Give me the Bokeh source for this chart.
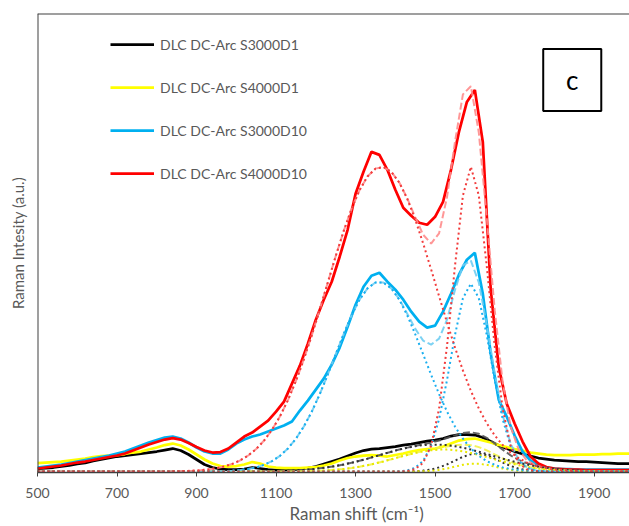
from bokeh.plotting import figure
from bokeh.models import Legend, LegendItem, Label, Span, FixedTicker, Title
from bokeh.embed import file_html
from bokeh.resources import INLINE

# ---------------- data (arbitrary intensity units) ----------------
series_names = ["DLC DC-Arc S3000D1", "DLC DC-Arc S4000D1",
                "DLC DC-Arc S3000D10", "DLC DC-Arc S4000D10"]
x_ticks = [500, 700, 900, 1100, 1300, 1500, 1700, 1900]

# measured spectra (solid lines)
wavenumber = [500, 520, 540, 560, 580, 600, 620, 640, 660, 680,
              700, 720, 740, 760, 780, 800, 820, 840, 860, 880,
              900, 920, 940, 960, 980, 1000, 1020, 1040, 1060, 1080,
              1100, 1120, 1140, 1160, 1180, 1200, 1220, 1240, 1260, 1280,
              1300, 1320, 1340, 1360, 1380, 1400, 1420, 1440, 1460, 1480,
              1500, 1520, 1540, 1560, 1580, 1600, 1620, 1640, 1660, 1680,
              1700, 1720, 1740, 1760, 1780, 1800, 1820, 1840, 1860, 1880,
              1900, 1920, 1940, 1960, 1980, 2000]

s3000d1 = [3, 3.5, 4, 5, 6, 7.5, 8.5, 10.5, 12, 13.5,
           15, 16, 17, 18, 19, 20, 21.5, 23, 21, 17,
           12, 7, 4, 2.5, 2, 2, 2.5, 4, 3, 2,
           1.5, 1.5, 2, 2.5, 3.5, 5, 7.5, 10, 12.5, 15.5,
           18.5, 21, 22.5, 23, 24, 25, 26.5, 27.5, 29, 30.5,
           31.5, 33, 35.5, 37, 37, 36.5, 34, 30, 26, 23,
           20, 17.5, 15.5, 13.5, 12.5, 11.5, 11, 10.5, 10, 10,
           9.5, 9, 8.5, 8, 8, 8]

s4000d1 = [8.5, 9, 9.5, 10, 11, 12, 13, 14.5, 15.5, 16,
           16.5, 17.5, 19, 20, 22, 24, 26.5, 28, 26, 22,
           17, 12, 8, 5.5, 5, 5.5, 7, 9.5, 8, 5,
           4, 3.5, 3.5, 3.5, 4, 4.5, 6, 8, 11, 13.5,
           15, 16, 16.5, 16, 15, 16.5, 18, 20, 21.5, 22.5,
           23, 25, 28, 31, 32.5, 33, 31, 29, 26.5, 24.5,
           22.5, 21, 19, 18, 17, 16.5, 16.5, 16.5, 17, 17,
           17, 17.5, 17.5, 18, 18, 18]

s3000d10 = [4, 5, 6, 7, 8.5, 10, 11.5, 13, 14.5, 16,
            18, 20, 23, 26, 29, 31.5, 34, 35, 33, 29,
            24, 20, 18, 18, 22, 28, 32, 35, 37, 40,
            43, 46, 50, 61, 71, 82, 93, 107, 124, 145,
            167, 185, 196, 199, 190, 182, 172, 160, 150, 144,
            146, 160, 178, 197, 212, 219, 178, 118, 72, 55,
            36, 20, 11, 6, 4, 3, 2.5, 2.5, 2, 2,
            2, 2, 2, 2, 2, 2]

s4000d10 = [3, 4, 5, 6, 7.5, 9, 10, 11.5, 13, 14.5,
            16, 18, 21, 24, 27, 29.5, 32, 33.5, 32, 28.5,
            24.5, 21, 19, 19.5, 23, 29, 35, 39, 45, 51,
            60, 70, 88, 106, 128, 152, 172, 190, 215, 242,
            278, 300, 320, 317, 302, 282, 264, 256, 249, 247,
            255, 270, 302, 340, 370, 382, 330, 182, 105, 68,
            48, 30, 15, 8, 4.5, 3, 2.5, 2, 2, 1.5,
            1.5, 1.5, 1.5, 1.5, 1.5, 1.5]

# fitted curves (dashed = fit sum, dotted = D and G bands)
fit_wavenumber = [500, 510, 530, 550, 570, 590, 610, 630, 650, 670,
                  690, 710, 730, 750, 770, 790, 810, 830, 850, 870,
                  890, 910, 930, 950, 970, 990, 1010, 1030, 1050, 1070,
                  1090, 1110, 1130, 1150, 1170, 1190, 1210, 1230, 1250, 1270,
                  1290, 1310, 1330, 1350, 1370, 1390, 1410, 1430, 1450, 1470,
                  1490, 1510, 1530, 1550, 1570, 1590, 1610, 1630, 1650, 1670,
                  1690, 1710, 1730, 1750, 1770, 1790, 1810, 1830, 1850, 1870,
                  1890, 1910, 1930, 1950, 1970, 1990]

s3000d1_d = [0, 0, 0, 0, 0, 0, 0, 0, 0, 0,
             0, 0, 0, 0, 0, 0, 0, 0, 0, 0,
             0, 0, 0, 0, 0, 0, 0, 0, 0.1, 0.2,
             0.4, 0.6, 0.8, 1.2, 1.7, 2.3, 3.2, 4.2, 5.5, 7.0,
             8.8, 10.7, 12.9, 15.2, 17.5, 19.8, 22.0, 23.8, 25.3, 26.4,
             26.9, 26.9, 26.4, 25.3, 23.8, 22.0, 19.8, 17.5, 15.2, 12.9,
             10.7, 8.8, 7.0, 5.5, 4.2, 3.2, 2.3, 1.7, 1.2, 0.8,
             0.6, 0.4, 0.2, 0.1, 0, 0]
s3000d1_g = [0, 0, 0, 0, 0, 0, 0, 0, 0, 0,
             0, 0, 0, 0, 0, 0, 0, 0, 0, 0,
             0, 0, 0, 0, 0, 0, 0, 0, 0, 0,
             0, 0, 0, 0, 0, 0, 0, 0, 0, 0,
             0, 0, 0, 0, 0, 0, 0, 0.1, 0.3, 0.9,
             2.0, 4.1, 7.1, 10.9, 14.7, 17.3, 17.9, 16.2, 12.9, 9.0,
             5.5, 2.9, 1.4, 0.6, 0.2, 0.1, 0, 0, 0, 0,
             0, 0, 0, 0, 0, 0]
s3000d1_fit = [0, 0, 0, 0, 0, 0, 0, 0, 0, 0,
               0, 0, 0, 0, 0, 0, 0, 0, 0, 0,
               0, 0, 0, 0, 0, 0, 0, 0, 0.1, 0.2,
               0.4, 0.6, 0.8, 1.2, 1.7, 2.3, 3.2, 4.2, 5.5, 7.0,
               8.8, 10.7, 12.9, 15.2, 17.5, 19.8, 22.0, 23.9, 25.6, 27.3,
               28.9, 31.0, 33.5, 36.2, 38.5, 39.3, 37.7, 33.7, 28.1, 21.9,
               16.2, 11.7, 8.4, 6.1, 4.4, 3.3, 2.3, 1.7, 1.2, 0.8,
               0.6, 0.4, 0.2, 0.1, 0, 0]

s4000d1_d = [0, 0, 0, 0, 0, 0, 0, 0, 0, 0,
             0, 0, 0, 0, 0, 0, 0, 0, 0, 0,
             0, 0, 0, 0, 0, 0, 0, 0, 0, 0,
             0, 0, 0.1, 0.2, 0.3, 0.5, 0.8, 1.2, 1.8, 2.5,
             3.5, 4.8, 6.3, 8.1, 10.1, 12.2, 14.5, 16.6, 18.6, 20.2,
             21.3, 21.9, 21.9, 21.3, 20.2, 18.6, 16.6, 14.5, 12.2, 10.1,
             8.1, 6.3, 4.8, 3.5, 2.5, 1.8, 1.2, 0.8, 0.5, 0.3,
             0.2, 0.1, 0, 0, 0, 0]
s4000d1_g = [0, 0, 0, 0, 0, 0, 0, 0, 0, 0,
             0, 0, 0, 0, 0, 0, 0, 0, 0, 0,
             0, 0, 0, 0, 0, 0, 0, 0, 0, 0,
             0, 0, 0, 0, 0, 0, 0, 0, 0, 0,
             0, 0, 0, 0, 0, 0, 0, 0, 0.1, 0.3,
             0.7, 1.6, 3.0, 4.9, 6.7, 7.8, 7.8, 6.7, 4.9, 3.0,
             1.6, 0.7, 0.3, 0.1, 0, 0, 0, 0, 0, 0,
             0, 0, 0, 0, 0, 0]
s4000d1_fit = [0, 0, 0, 0, 0, 0, 0, 0, 0, 0,
               0, 0, 0, 0, 0, 0, 0, 0, 0, 0,
               0, 0, 0, 0, 0, 0, 0, 0, 0, 0,
               0, 0, 0.1, 0.2, 0.3, 0.5, 0.8, 1.2, 1.8, 2.5,
               3.5, 4.8, 6.3, 8.1, 10.1, 12.2, 14.5, 16.6, 18.7, 20.5,
               22.0, 23.5, 24.9, 26.2, 26.9, 26.4, 24.4, 21.2, 17.1, 13.1,
               9.7, 7.0, 5.1, 3.6, 2.5, 1.8, 1.2, 0.8, 0.5, 0.3,
               0.2, 0.1, 0, 0, 0, 0]

s3000d10_d = [0, 0, 0, 0, 0, 0, 0, 0, 0, 0,
              0, 0, 0, 0, 0, 0, 0, 0, 0, 0,
              0, 0, 0, 0.2, 0.4, 0.8, 1.4, 2.5, 4.1, 6.7,
              10.4, 15.7, 23.1, 32.8, 45.1, 60.0, 77.5, 96.9, 117.3, 137.6,
              156.3, 172.0, 183.3, 189.2, 189.2, 183.3, 172.0, 156.3, 137.6, 117.3,
              96.9, 77.5, 60.0, 45.1, 32.8, 23.1, 15.7, 10.4, 6.7, 4.1,
              2.5, 1.4, 0.8, 0.4, 0.2, 0, 0, 0, 0, 0,
              0, 0, 0, 0, 0, 0]
s3000d10_g = [0, 0, 0, 0, 0, 0, 0, 0, 0, 0,
              0, 0, 0, 0, 0, 0, 0, 0, 0, 0,
              0, 0, 0, 0, 0, 0, 0, 0, 0, 0,
              0, 0, 0, 0, 0, 0, 0, 0, 0, 0,
              0, 0, 0, 0, 0, 0, 0.3, 1.1, 3.7, 10.6,
              25.4, 52.3, 91.5, 136.5, 173.5, 188.0, 173.5, 136.5, 91.5, 52.3,
              25.4, 10.6, 3.7, 1.1, 0.3, 0, 0, 0, 0, 0,
              0, 0, 0, 0, 0, 0]
s3000d10_fit = [0, 0, 0, 0, 0, 0, 0, 0, 0, 0,
                0, 0, 0, 0, 0, 0, 0, 0, 0, 0,
                0, 0, 0, 0.2, 0.4, 0.8, 1.4, 2.5, 4.1, 6.7,
                10.4, 15.7, 23.1, 32.8, 45.1, 60.0, 77.5, 96.9, 117.3, 137.6,
                156.3, 172.0, 183.3, 189.2, 189.2, 183.3, 172.5, 158.0, 143.0, 131.0,
                127.0, 133.0, 152.0, 181.6, 206.3, 211.1, 189.2, 146.9, 98.2, 56.4,
                27.9, 12.0, 4.5, 1.5, 0.5, 0, 0, 0, 0, 0,
                0, 0, 0, 0, 0, 0]

s4000d10_d = [0, 0, 0, 0, 0, 0, 0, 0, 0, 0,
              0, 0, 0, 0, 0, 0, 0.1, 0.1, 0.3, 0.5,
              0.8, 1.3, 2.1, 3.3, 5.1, 7.6, 11.2, 16.0, 22.5, 31.0,
              41.9, 55.3, 71.5, 90.6, 112.4, 136.5, 162.3, 189.0, 215.5, 240.6,
              263.1, 281.7, 295.3, 303.2, 304.8, 300.0, 289.2, 273.0, 252.3, 228.3,
              202.4, 175.6, 149.2, 124.2, 101.2, 80.7, 63.1, 48.3, 36.1, 26.5,
              19.1, 13.4, 9.2, 6.2, 4.1, 2.7, 1.7, 1.0, 0.6, 0.4,
              0.3, 0.2, 0.1, 0.1, 0, 0]
s4000d10_g = [0, 0, 0, 0, 0, 0, 0, 0, 0, 0,
              0, 0, 0, 0, 0, 0, 0, 0, 0, 0,
              0, 0, 0, 0, 0, 0, 0, 0, 0, 0,
              0, 0, 0, 0, 0, 0, 0, 0, 0, 0,
              0, 0, 0, 0, 0, 0, 0.1, 0.5, 2.4, 8.7,
              25.8, 62.8, 125.4, 205.5, 276.3, 305.0, 276.3, 205.5, 125.4, 62.8,
              25.8, 8.7, 2.4, 0.5, 0.1, 0, 0, 0, 0, 0,
              0, 0, 0, 0, 0, 0]
s4000d10_fit = [0, 0, 0, 0, 0, 0, 0, 0, 0, 0,
                0, 0, 0, 0, 0, 0, 0.1, 0.1, 0.3, 0.5,
                0.8, 1.3, 2.1, 3.3, 5.1, 7.6, 11.2, 16.0, 22.5, 31.0,
                41.9, 55.3, 71.5, 90.6, 112.4, 136.5, 162.3, 189.0, 215.5, 240.6,
                263.1, 281.7, 295.3, 303.2, 304.8, 300.0, 289.3, 273.5, 254.7, 237.0,
                228.2, 238.4, 274.6, 329.7, 377.5, 385.7, 339.4, 253.8, 161.5, 89.3,
                44.9, 22.1, 11.6, 6.7, 4.2, 2.7, 1.7, 1.0, 0.6, 0.4,
                0.3, 0.2, 0.1, 0.1, 0, 0]

# ---------------- styling ----------------
FONT = "Lato"
GREY = "#595959"
AXIS = "#404040"
solid_colors = ["#000000", "#FFFF00", "#00B0F0", "#FF0000"]
fit_colors = ["#555555", "#F2F24A", "#6FCDF2", "#FF8C8C"]
band_colors = ["#333333", "#E8E800", "#1AAFEF", "#F23C3C"]

p = figure(width=629, height=526, x_range=(500, 1989), y_range=(-1, 458.5),
           output_backend="svg", toolbar_location=None, title=None,
           min_border_left=37, min_border_right=0,
           min_border_top=13, min_border_bottom=54)
p.outline_line_color = None
p.xgrid.visible = False
p.ygrid.visible = False
p.background_fill_color = "white"
p.border_fill_color = "white"

ax = p.xaxis[0]
ax.ticker = FixedTicker(ticks=x_ticks)
ax.minor_tick_line_color = None
ax.major_tick_in = 0
ax.major_tick_out = 4
ax.major_tick_line_color = AXIS
ax.axis_line_color = AXIS
ax.axis_line_width = 1.5
ax.major_label_text_font = FONT
ax.major_label_text_font_size = "14px"
ax.major_label_text_color = GREY
ax.major_label_standoff = 11

ay = p.yaxis[0]
ay.ticker = FixedTicker(ticks=[])
ay.axis_line_color = None
ay.major_tick_line_color = None
ay.minor_tick_line_color = None
ay.major_tick_in = 0
ay.major_tick_out = 0
ay.major_label_standoff = 0
ay.axis_label = "Raman Intesity (a.u.)"
ay.axis_label_standoff = 11
ay.axis_label_text_font = FONT
ay.axis_label_text_font_size = "15px"
ay.axis_label_text_font_style = "normal"
ay.axis_label_text_color = GREY

# x-axis title (the original plot area continues past the right edge, so the title sits right of centre)
p.add_layout(Title(text="Raman shift (cm\u207b\u00b9)", align="left", offset=252,
                   vertical_align="bottom", standoff=0,
                   text_font=FONT, text_font_size="17px", text_font_style="normal",
                   text_color=GREY), "below")

# plot-area border (left and top)
p.add_layout(Span(location=500, dimension="height", line_color=AXIS, line_width=2))
p.add_layout(Span(location=458.5, dimension="width", line_color=AXIS, line_width=2))

fits = [s3000d1_fit, s4000d1_fit, s3000d10_fit, s4000d10_fit]
d_bands = [s3000d1_d, s4000d1_d, s3000d10_d, s4000d10_d]
g_bands = [s3000d1_g, s4000d1_g, s3000d10_g, s4000d10_g]
spectra = [s3000d1, s4000d1, s3000d10, s4000d10]

solid_renderers = []
for i in range(4):
    r = p.line(wavenumber, spectra[i], line_color=solid_colors[i], line_width=2.75)
    solid_renderers.append(r)
for i in range(4):
    p.line(fit_wavenumber, fits[i], line_color=fit_colors[i], line_width=2,
           line_dash="7 3", line_alpha=0.9)
for i in range(4):
    p.line(fit_wavenumber, d_bands[i], line_color=band_colors[i], line_width=2,
           line_dash="2 3")
    p.line(fit_wavenumber, g_bands[i], line_color=band_colors[i], line_width=2,
           line_dash="2 3")

legend = Legend(items=[LegendItem(label=series_names[i], renderers=[solid_renderers[i]])
                       for i in range(4)],
                location=(73, 289), orientation="vertical",
                glyph_width=44, glyph_height=20, label_height=20, spacing=23,
                label_standoff=6, padding=0, margin=0,
                border_line_color=None, background_fill_alpha=0,
                label_text_font=FONT, label_text_font_size="14px",
                label_text_color=GREY)
p.add_layout(legend)

# panel letter box
p.quad(left=[1772], right=[1918], top=[423], bottom=[361],
       fill_color="white", line_color="black", line_width=2)
p.add_layout(Label(x=1845, y=392, text="c", text_align="center", text_baseline="middle",
                   text_font=FONT, text_font_size="26px", text_color="black"))

open("out.html", "w").write(file_html(p, INLINE))
